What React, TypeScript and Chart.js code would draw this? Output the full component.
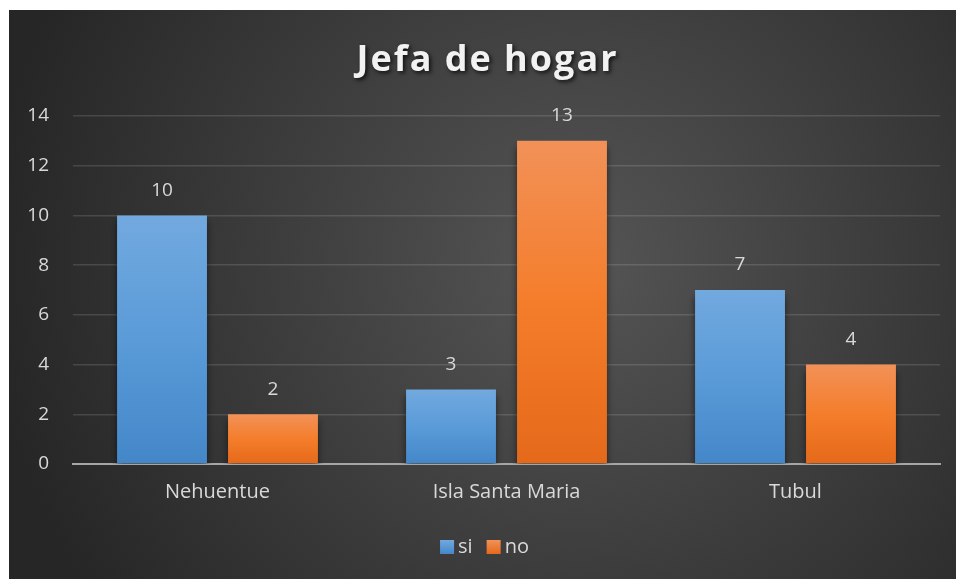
import React, { useEffect, useRef } from "react";
import { Chart, registerables } from "chart.js";

Chart.register(...registerables);

const categories = ["Nehuentue", "Isla Santa Maria", "Tubul"];
const siValues = [10, 3, 7];
const noValues = [2, 13, 4];
const seriesNames = ["si", "no"];
const titleText = "Jefa de hogar";
const yMin = 0;
const yMax = 14;
const yStep = 2;

const FONT = "'Open Sans', 'Noto Sans', sans-serif";
const TEXT = "#d9d9d9";

const gradStops: Record<string, [string, string, string]> = {
  si: ["#72a9df", "#5a9bd8", "#4487c9"],
  no: ["#f29158", "#f47d2b", "#e5691a"],
};

function barGradient(ctx: any) {
  const chart = ctx.chart;
  const name = ctx.dataset.label as string;
  const stops = gradStops[name];
  const ys = chart.scales?.y;
  if (!ys || !chart.chartArea || ctx.raw == null) return stops[1];
  const top = ys.getPixelForValue(ctx.raw);
  const bottom = ys.getPixelForValue(0);
  if (!isFinite(top) || !isFinite(bottom) || top === bottom) return stops[1];
  const g = chart.ctx.createLinearGradient(0, top, 0, bottom);
  g.addColorStop(0, stops[0]);
  g.addColorStop(0.5, stops[1]);
  g.addColorStop(1, stops[2]);
  return g;
}

const bgPlugin = {
  id: "bgPlugin",
  beforeDraw(chart: any) {
    const { ctx, width, height } = chart;
    ctx.save();
    const g = ctx.createRadialGradient(width * 0.6, height * 0.45, 0, width * 0.6, height * 0.45, width * 0.62);
    g.addColorStop(0, "#555555");
    g.addColorStop(1, "#262626");
    ctx.fillStyle = g;
    ctx.fillRect(0, 0, width, height);
    ctx.restore();
  },
};

const shadowPlugin = {
  id: "shadowPlugin",
  beforeDatasetsDraw(chart: any) {
    const ctx = chart.ctx;
    ctx.save();
    ctx.shadowColor = "rgba(0,0,0,0.55)";
    ctx.shadowBlur = 7;
    ctx.shadowOffsetX = 0;
    ctx.shadowOffsetY = 6;
  },
  afterDatasetsDraw(chart: any) {
    chart.ctx.restore();
  },
};

const decorPlugin = {
  id: "decorPlugin",
  afterDraw(chart: any) {
    const { ctx, width } = chart;
    // title
    ctx.save();
    ctx.font = `bold 36px ${FONT}`;
    (ctx as any).letterSpacing = "2px";
    ctx.textAlign = "center";
    ctx.textBaseline = "alphabetic";
    ctx.shadowColor = "rgba(0,0,0,0.75)";
    ctx.shadowBlur = 4;
    ctx.shadowOffsetX = 2;
    ctx.shadowOffsetY = 2;
    ctx.fillStyle = "#f2f2f2";
    ctx.fillText(titleText, width / 2 + 5, 61);
    ctx.restore();

    // data labels
    ctx.save();
    ctx.font = `19px ${FONT}`;
    ctx.fillStyle = TEXT;
    ctx.textAlign = "center";
    ctx.textBaseline = "middle";
    chart.data.datasets.forEach((ds: any, di: number) => {
      const meta = chart.getDatasetMeta(di);
      meta.data.forEach((bar: any, i: number) => {
        ctx.fillText(String(ds.data[i]), bar.x, bar.y - 25);
      });
    });
    ctx.restore();

    // legend
    ctx.save();
    ctx.font = `20px ${FONT}`;
    ctx.textBaseline = "middle";
    ctx.textAlign = "left";
    const cy = 537;
    const items = chart.data.datasets.map((ds: any) => ds.label);
    const box = 14;
    const gapText = 4;
    const gapItem = 14;
    const widths = items.map((t: string) => box + gapText + ctx.measureText(t).width);
    const total = widths.reduce((a: number, b: number) => a + b, 0) + gapItem * (items.length - 1);
    let x = width / 2 - total / 2 + 2;
    items.forEach((t: string, i: number) => {
      const stops = gradStops[t];
      const g = ctx.createLinearGradient(0, cy - box / 2, 0, cy + box / 2);
      g.addColorStop(0, stops[0]);
      g.addColorStop(1, stops[2]);
      ctx.fillStyle = g;
      ctx.fillRect(x, cy - box / 2, box, box);
      ctx.fillStyle = TEXT;
      ctx.fillText(t, x + box + gapText, cy);
      x += widths[i] + gapItem;
    });
    ctx.restore();
  },
};

export default function App() {
  const ref = useRef<HTMLCanvasElement | null>(null);
  useEffect(() => {
    if (!ref.current) return;
    const chart = new Chart(ref.current, {
      type: "bar",
      data: {
        labels: categories,
        datasets: [
          { label: seriesNames[0], data: siValues, backgroundColor: barGradient, borderWidth: 0 },
          { label: seriesNames[1], data: noValues, backgroundColor: barGradient, borderWidth: 0 },
        ],
      },
      options: {
        animation: false,
        responsive: false,
        devicePixelRatio: 1,
        layout: { padding: { top: 106, left: 0, right: 16, bottom: 0 } },
        datasets: {
          bar: { categoryPercentage: 0.768, barPercentage: 0.81 },
        },
        plugins: {
          legend: { display: false },
          title: { display: false },
          tooltip: { enabled: false },
        },
        scales: {
          x: {
            z: 1,
            grid: { display: false, drawTicks: false },
            border: { display: true, color: "#a6a6a6", width: 2 },
            ticks: { color: TEXT, font: { family: FONT, size: 20 }, padding: 16 },
            afterFit: (s: any) => {
              s.height = 115;
            },
          },
          y: {
            min: yMin,
            max: yMax,
            grid: { color: "rgba(255,255,255,0.13)", lineWidth: 1.5, drawTicks: false },
            border: { display: false },
            ticks: { stepSize: yStep, color: TEXT, font: { family: FONT, size: 19 }, padding: 24 },
            afterFit: (s: any) => {
              s.width = 64;
            },
          },
        },
      },
      plugins: [bgPlugin, shadowPlugin, decorPlugin],
    });
    return () => chart.destroy();
  }, []);
  return (
    <div style={{ position: "fixed", left: 9, top: 10, width: 947, height: 569 }}>
      <canvas ref={ref} width={947} height={569} style={{ display: "block" }} />
    </div>
  );
}
